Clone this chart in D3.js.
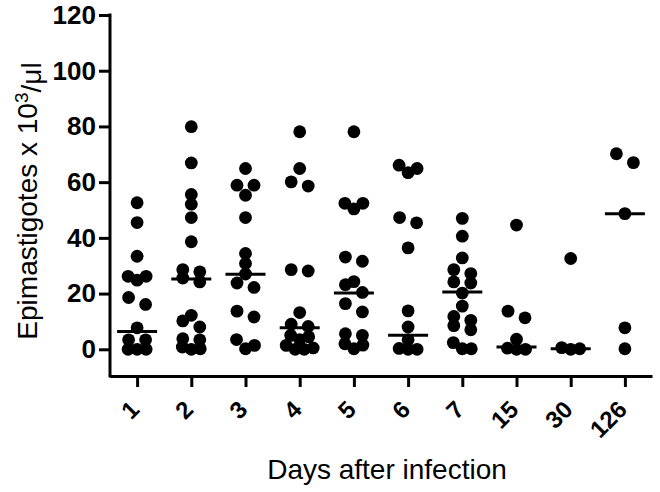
<!DOCTYPE html>
<html>
<head>
<meta charset="utf-8">
<script src="https://cdn.jsdelivr.net/npm/d3@7"></script>
<style>
  html, body { margin: 0; padding: 0; background: #fff; }
  svg { display: block; font-family: Arial, "Liberation Sans", sans-serif; }
</style>
</head>
<body>
<svg id="chart" width="660" height="492"></svg>
<script>
// days after infection (categories)
const days = ["1", "2", "3", "4", "5", "6", "7", "15", "30", "126"];

// epimastigotes x 10^3/ul, one array per day
const day1 = [0, 0, 0, 3.4, 3.4, 7.7, 16.1, 18.6, 24.8, 26.2, 26.2, 33.4, 45.5, 52.6];
const day2 = [0, 0.2, 0.8, 3.4, 3.8, 8.0, 10.2, 12.2, 24.2, 25.6, 27.8, 28.6, 38.6, 47.3, 52.1, 55.6, 66.9, 79.9];
const day3 = [0.2, 1.4, 3.5, 11.6, 13.7, 22.2, 23.8, 27.0, 30.8, 34.4, 47.3, 55.3, 58.9, 58.9, 64.9];
const day4 = [0, 0, 0.5, 1.4, 3.5, 4.5, 5.0, 8.2, 9.0, 13.2, 28.1, 28.6, 58.6, 60.1, 64.9, 78.1];
const day5 = [0.2, 1.5, 2.0, 5.0, 5.6, 13.4, 16.4, 20.4, 23.2, 24.3, 31.6, 33.1, 50.4, 52.4, 52.4, 78.1];
const day6 = [0, 0, 0.3, 3.4, 8.0, 13.8, 36.4, 45.4, 47.3, 63.4, 64.9, 66.1];
const day7 = [0.2, 0.2, 2.4, 7.0, 8.5, 10.4, 11.8, 15.5, 20.2, 23.8, 24.2, 27.2, 28.6, 32.8, 40.6, 47.0];
const day15 = [0, 0, 0.4, 3.6, 11.3, 13.7, 44.6];
const day30 = [0, 0.2, 0.6, 32.6];
const day126 = [0.2, 7.7, 48.7, 67.0, 70.2];

const series = [day1, day2, day3, day4, day5, day6, day7, day15, day30, day126];

// median line of each group
const medians = [6.4, 25.2, 26.9, 7.7, 20.2, 5.0, 20.6, 0.8, 0.2, 48.7];

const yTicks = [0, 20, 40, 60, 80, 100, 120];

const svg = d3.select("#chart");
const axisY = 376;

const x = d3.scalePoint().domain(days).range([110, 652]).padding(0.5);
const y = d3.scaleLinear().domain([0, 120]).range([349.3, 15]);

// prism-like scatter: group close values into rows, spread each row sideways
function swarm(values) {
  const sorted = values.slice().sort((a, b) => a - b);
  const rows = [];
  let row = null;
  sorted.forEach(v => {
    if (row && y(row[0]) - y(v) < 9.3) row.push(v);
    else { row = [v]; rows.push(row); }
  });
  const out = [];
  rows.forEach(r => {
    const n = r.length;
    const step = n === 2 ? 17 : 9;
    const offs = d3.range(n).map(i => (i - (n - 1) / 2) * step);
    offs.sort((a, b) => Math.abs(b) - Math.abs(a) || a - b);
    r.slice().sort((a, b) => b - a).forEach((v, i) => out.push({ value: v, dx: offs[i] }));
  });
  return out;
}

const points = [];
series.forEach((vals, i) => {
  swarm(vals).forEach(p => points.push({ day: days[i], ...p }));
});

// axes
const gx = svg.append("g")
  .attr("transform", `translate(0,${axisY})`)
  .call(d3.axisBottom(x).tickSize(11).tickSizeOuter(0));
gx.select(".domain").attr("stroke", "#000").attr("stroke-width", 3);
gx.selectAll(".tick line").attr("stroke", "#000").attr("stroke-width", 3);
gx.selectAll(".tick text")
  .attr("y", null).attr("dy", null).attr("x", null)
  .attr("text-anchor", "end")
  .attr("transform", "translate(3,35) rotate(-45)")
  .attr("fill", "#000")
  .style("font-size", "24px")
  .style("font-weight", "bold")
  .style("font-family", "Arial, 'Liberation Sans', sans-serif");

const gy = svg.append("g")
  .attr("transform", "translate(110,0)")
  .call(d3.axisLeft(y).tickValues(yTicks).tickSize(11).tickPadding(3).tickSizeOuter(0));
gy.select(".domain").remove();
gy.selectAll(".tick line").attr("stroke", "#000").attr("stroke-width", 3);
gy.selectAll(".tick text")
  .attr("fill", "#000")
  .style("font-size", "26px")
  .style("font-weight", "bold")
  .style("font-family", "Arial, 'Liberation Sans', sans-serif");
gy.append("line")
  .attr("x1", 0).attr("x2", 0)
  .attr("y1", y(120) - 1.5).attr("y2", axisY + 1.5)
  .attr("stroke", "#000").attr("stroke-width", 3);

// dots
svg.append("g")
  .selectAll("circle")
  .data(points)
  .join("circle")
  .attr("cx", d => x(d.day) + d.dx)
  .attr("cy", d => y(d.value))
  .attr("r", 6.4)
  .attr("fill", "#000");

// medians
svg.append("g")
  .selectAll("line")
  .data(medians)
  .join("line")
  .attr("x1", (d, i) => x(days[i]) - 20)
  .attr("x2", (d, i) => x(days[i]) + 20)
  .attr("y1", d => y(d))
  .attr("y2", d => y(d))
  .attr("stroke", "#000")
  .attr("stroke-width", 3);

// axis titles
svg.append("text")
  .attr("x", 387).attr("y", 479)
  .attr("text-anchor", "middle")
  .style("font-size", "28px")
  .text("Days after infection");

const yt = svg.append("text")
  .attr("transform", "translate(37,201) rotate(-90)")
  .attr("text-anchor", "middle")
  .style("font-size", "28px");
yt.append("tspan").text("Epimastigotes x 10");
yt.append("tspan").attr("dy", "-0.45em").style("font-size", "19px").text("3");
yt.append("tspan").attr("dy", "0.45em").text("/μl");
</script>
</body>
</html>
